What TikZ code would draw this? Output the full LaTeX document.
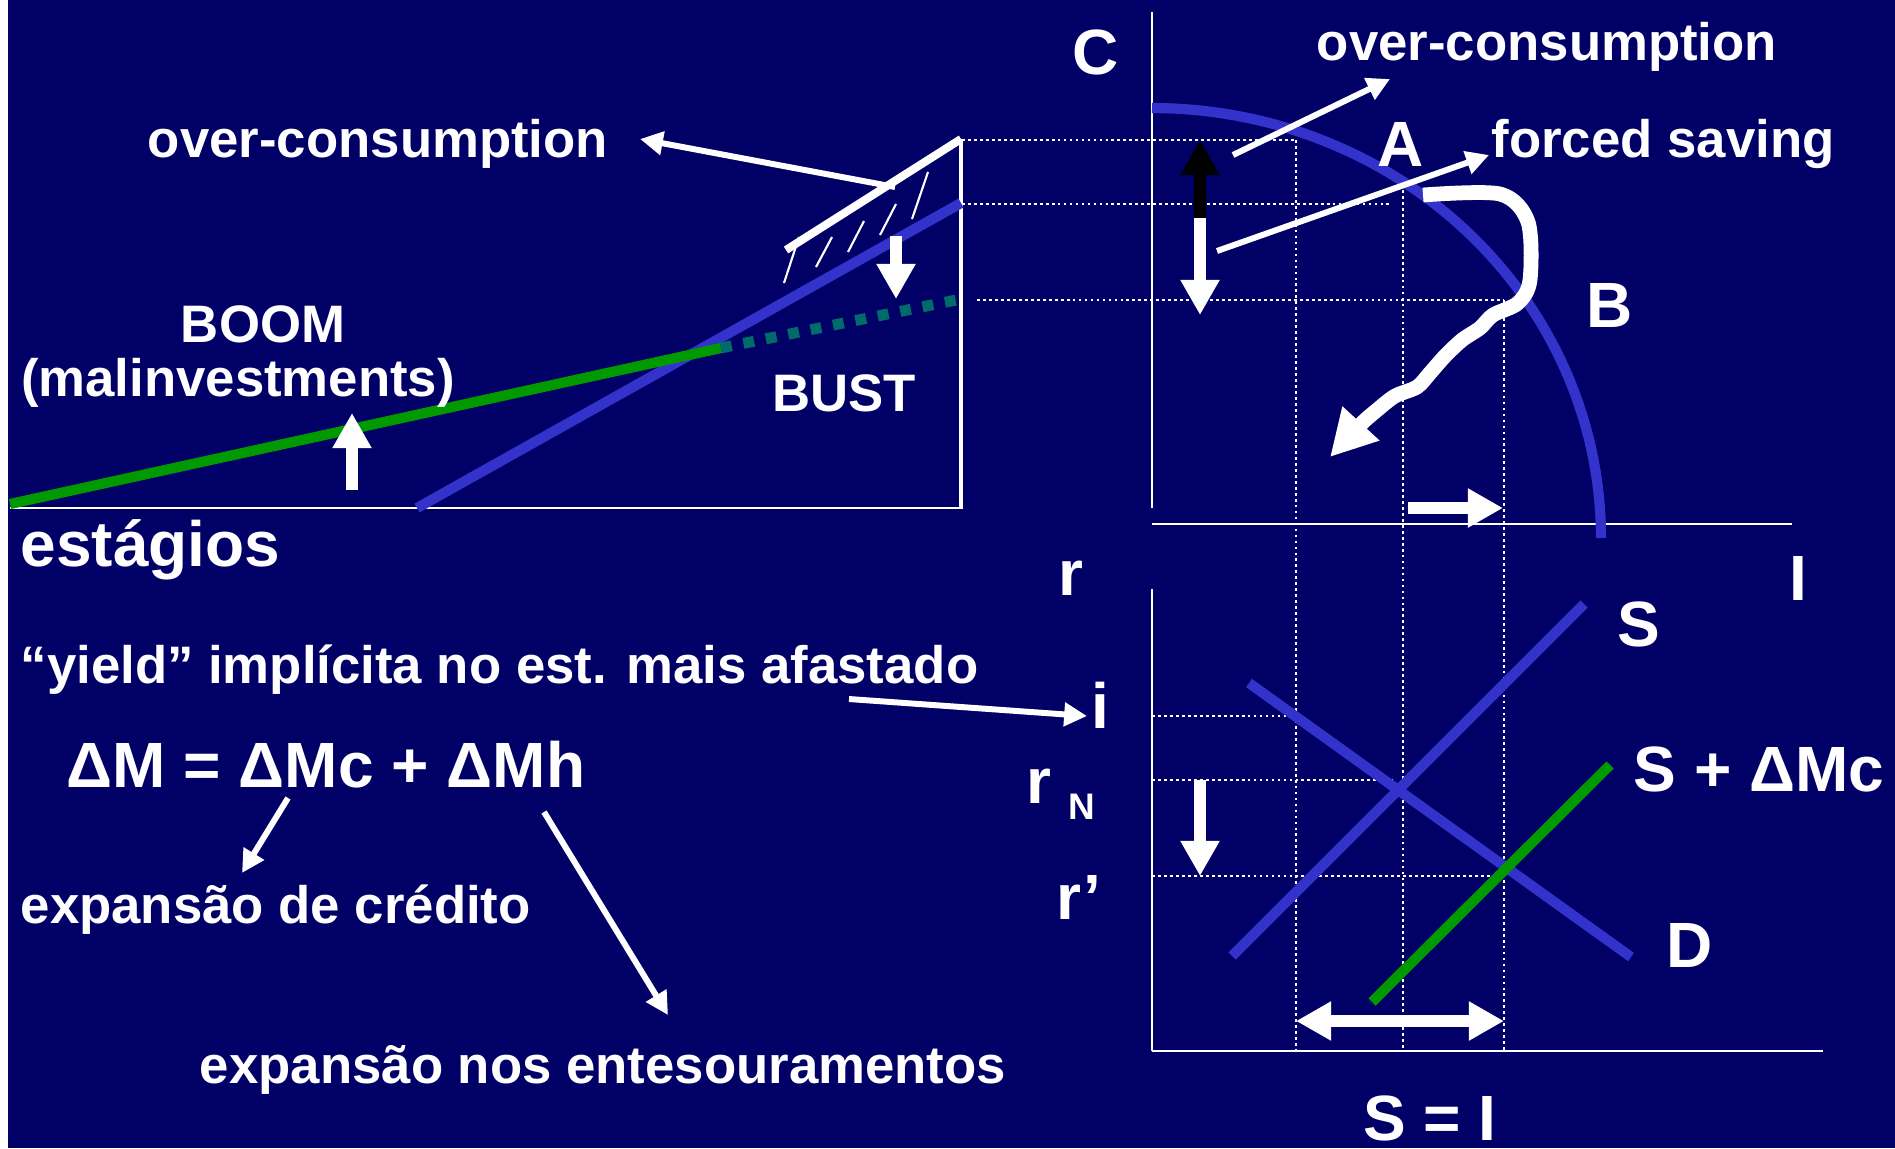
\documentclass[tikz,border=0pt]{standalone}
\usepackage{fontspec}
\setmainfont{Liberation Sans}
\usepackage{tikz}
\usetikzlibrary{arrows.meta}
\definecolor{navy}{HTML}{000066}
\definecolor{royal}{HTML}{3333CC}
\definecolor{leaf}{HTML}{009900}
\definecolor{teal}{HTML}{006B6B}

\begin{document}
\begin{tikzpicture}[x=0.01cm,y=-0.01cm,
  lbl/.style={text=white,inner sep=0pt,font=\bfseries\fontsize{15}{18}\selectfont},
  big/.style={text=white,inner sep=0pt,font=\bfseries\fontsize{18.2}{22}\selectfont},
  guide/.style={white,line width=0.6pt,dash pattern=on 0.8pt off 0.9pt},
  axis/.style={white,line width=0.6pt},
  sched/.style={royal,line width=2.9pt},
  block/.style={white,line width=3.4pt,-{Triangle[width=10.5pt,length=10pt]}},
  pointer/.style={white,line width=1.7pt,-{Triangle[width=6.5pt,length=6.5pt]}}]
  % background
  \fill[navy] (0,0) rectangle (1895,1148);
  \fill[white] (0,0) rectangle (8,1148);

  % left panel: stages
  \draw[axis] (10,508) -- (963,508);
  \draw[white,line width=1.4pt] (961,139) -- (961,508);
  \draw[sched] (417,508) -- (961,203);
  \draw[leaf,line width=2.9pt] (10,504) -- (721,348);
  \draw[teal,line width=3.1pt,dash pattern=on 3.1pt off 3.4pt] (721,348) -- (961,299);
  \draw[white,line width=2.3pt] (786,250) -- (961,139);
  \foreach \xa/\ya/\xb/\yb in {799/237/784/283,832/237/816/267,864/221/848/252,896/204/880/235,928/172/912/219}
    \draw[white,line width=0.6pt] (\xa,\ya) -- (\xb,\yb);

  \node[lbl] (ocL) at (378,144) {over-consumption};
  \node[lbl] (boom) at (263,324) {BOOM};
  \node[lbl] (malinv) at (238,383) {(malinvestments)};
  \node[lbl] (bust) at (844,393) {BUST};
  \node[big,anchor=west] (stages) at (20,550) {estágios};

  \coordinate (ocTail) at (895,187);
  \coordinate (ocTip) at (640,139);
  \draw[pointer] (ocTail) -- (ocTip);
  \draw[block] (896,236) -- (896,299);
  \draw[block] (352,490) -- (352,413);

  % guides between panels
  \draw[guide] (962,140) -- (1296,140);
  \draw[guide] (962,204) -- (1392,204);
  \draw[guide] (977,300) -- (1504,300);
  \draw[guide] (1296,140) -- (1296,1051);
  \draw[guide] (1403,190) -- (1403,1051);
  \draw[guide] (1504,300) -- (1504,1051);
  \draw[guide] (1152,716) -- (1296,716);
  \draw[guide] (1152,780) -- (1393,780);
  \draw[guide] (1152,876) -- (1504,876);

  % right top panel: C and I
  \draw[axis] (1152,12) -- (1152,508);
  \draw[axis] (1152,524) -- (1792,524);
  \draw[sched] plot[domain=0:90,samples=60] ({1152+449*cos(\x)},{538-430*sin(\x)});

  \node[big] (C) at (1096,52) {C};
  \node[big] (A) at (1401,144) {A};
  \node[big] (B) at (1610,305) {B};
  \node[lbl] (ocR) at (1547,47) {over-consumption};
  \node[lbl] (forced) at (1663,144) {forced saving};

  \draw[black,line width=3.4pt,-{Triangle[width=10.5pt,length=10pt]}] (1200,222) -- (1200,140);
  \draw[block] (1200,218) -- (1200,315);
  \coordinate (ocRtail) at (1233,155);
  \coordinate (ocRtip) at (1390,79);
  \draw[pointer] (ocRtail) -- (ocRtip);
  \coordinate (fsTail) at (1217,251);
  \coordinate (fsTip) at (1489,155);
  \draw[pointer] (fsTail) -- (fsTip);
  \draw[white,line width=4.2pt,line join=round,-{Triangle[width=13.4pt,length=13pt]}]
    plot[smooth,tension=0.5] coordinates {(1423,195) (1500,194) (1528,222) (1530,280) (1518,303)
      (1493,315) (1480,328) (1462,340) (1445,356) (1430,373) (1417,387) (1395,396) (1377,410)
      (1360,425) (1330,457)};
  \draw[block] (1408,508) -- (1503,508);

  % right bottom panel: loanable funds
  \draw[axis] (1152,589) -- (1152,1051);
  \draw[axis] (1152,1051) -- (1823,1051);
  \draw[sched] (1232,956) -- (1584,604);
  \draw[sched] (1249,683) -- (1631,957);
  \draw[leaf,line width=2.9pt] (1372,1002) -- (1610,765);
  \draw[block] (1200,780) -- (1200,876);
  \draw[white,line width=3.4pt,{Triangle[width=10.5pt,length=10pt]}-{Triangle[width=10.5pt,length=10pt]}] (1296,1021) -- (1504,1021);

  \node[big] (r) at (1071,578) {r};
  \node[big] (I) at (1798,578) {I};
  \node[big] (S) at (1639,624) {S};
  \node[big] (i) at (1100,705) {i};
  \node[big] (rN) at (1039,786) {r};
  \node[lbl,font=\bfseries\fontsize{10.5}{12}\selectfont] (Nsub) at (1082,807) {N};
  \node[big] (SMc) at (1759,769) {S + ΔMc};
  \node[big] (rp) at (1079,897) {r’};
  \node[big] (D) at (1690,945) {D};
  \node[big] (SI) at (1430,1118) {S = I};

  % left bottom texts
  \node[lbl,anchor=west] (yield) at (20,670) {“yield” implícita no est. mais afastado};
  \node[big,anchor=west] (money) at (66,765) {ΔM = ΔMc + ΔMh};
  \node[lbl,anchor=west] (credit) at (20,910) {expansão de crédito};
  \node[lbl] (hoard) at (603,1070) {expansão nos entesouramentos};

  \coordinate (yTail) at (849,699);
  \coordinate (yTip) at (1087,716);
  \draw[pointer] (yTail) -- (yTip);
  \coordinate (mcTail) at (288,798);
  \coordinate (mcTip) at (242,873);
  \draw[pointer] (mcTail) -- (mcTip);
  \coordinate (mhTail) at (544,812);
  \coordinate (mhTip) at (668,1015);
  \draw[pointer] (mhTail) -- (mhTip);
\end{tikzpicture}
\end{document}
